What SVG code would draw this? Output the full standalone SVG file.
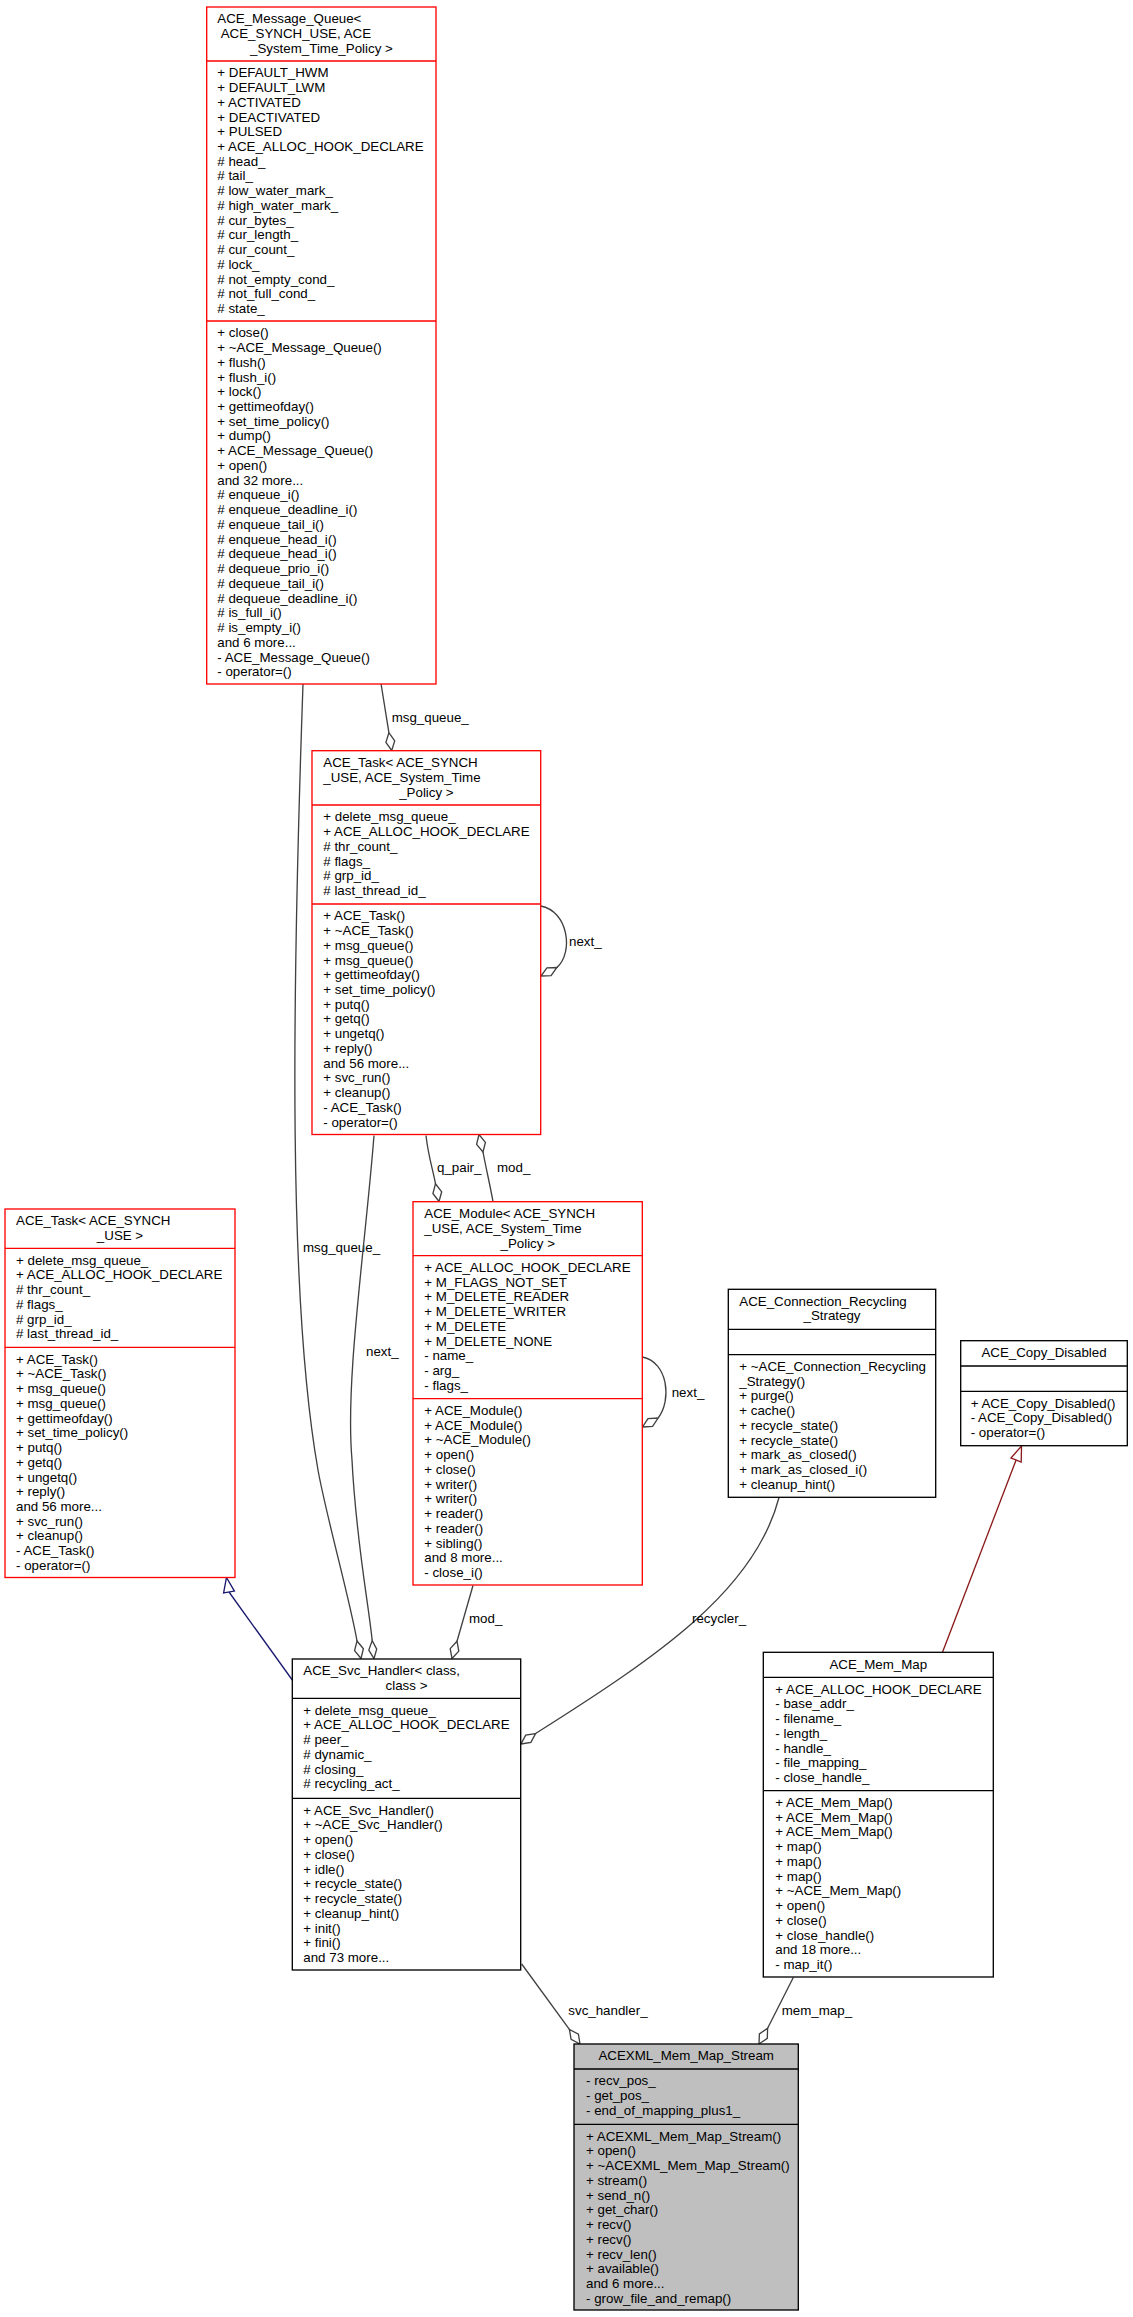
<svg xmlns="http://www.w3.org/2000/svg" width="1133" height="2317" viewBox="0 0 1133 2317">
<style>
.t{font-family:"Liberation Sans",Arial,Helvetica,sans-serif;font-size:13.33px;fill:#000}
.m{text-anchor:middle}
.rb{fill:#fff;stroke:#ff0000;stroke-width:1.33}
.rl{stroke:#ff0000;stroke-width:1.33}
.kb{fill:#fff;stroke:#000;stroke-width:1.33}
.kl{stroke:#000;stroke-width:1.33}
.gb{fill:#bfbfbf;stroke:#000;stroke-width:1.33}
.e{fill:none;stroke:#404040;stroke-width:1.33}
.d{fill:#fff;stroke:#404040;stroke-width:1.33}
.ib{fill:none;stroke:#191970;stroke-width:1.33}
.ibh{fill:#fff;stroke:#191970;stroke-width:1.33}
.ir{fill:none;stroke:#8b1a1a;stroke-width:1.33}
.irh{fill:#fff;stroke:#8b1a1a;stroke-width:1.33}
</style>
<rect x="0" y="0" width="1133" height="2317" fill="#fff"/>

<g id="edges">
<!-- MQ -> Task msg_queue_ -->
<path class="e" d="M381,683.5 L388.9,732.7"/>
<polygon class="d" points="391.7,750.5 394.7,740.9 388.9,732.7 385.9,742.3"/>
<text class="t" x="391.7" y="721.5">msg_queue_</text>
<!-- MQ -> Svc msg_queue_ -->
<path class="e" d="M303,684 C292,1000 288,1300 318,1470 C326,1515 350,1600 357,1641"/>
<polygon class="d" points="361,1658.5 363.4,1648.7 357,1641 354.6,1650.7"/>
<text class="t" x="303" y="1252">msg_queue_</text>
<!-- Task -> Svc next_ -->
<path class="e" d="M374,1135.5 C365,1250 345,1380 352,1460 C356,1540 368,1600 372.2,1640.6"/>
<polygon class="d" points="374,1658.5 376.7,1649.1 372.2,1640.6 368.8,1650.1"/>
<text class="t" x="366" y="1356">next_</text>
<!-- Task self next_ -->
<path class="e" d="M540.7,906 C568,911 574,952 556.9,967.5"/>
<polygon class="d" points="541,976 551.1,975.7 556.9,967.5 546.9,967.8"/>
<text class="t" x="569" y="946">next_</text>
<!-- Task -> Module q_pair_ -->
<path class="e" d="M426,1135.5 C428,1155 433,1170 435.5,1183.8"/>
<polygon class="d" points="439,1201.5 441.7,1191.8 435.5,1183.8 432.9,1193.5"/>
<text class="t" x="437" y="1172">q_pair_</text>
<!-- Module -> Task mod_ -->
<path class="e" d="M493,1201.5 C490,1185 486,1168 483,1152"/>
<polygon class="d" points="479,1134.5 476.6,1144.3 483,1152 485.4,1142.3"/>
<text class="t" x="497" y="1172">mod_</text>
<!-- Module self next_ -->
<path class="e" d="M642.3,1357 C668,1362 672,1400 658.1,1418"/>
<polygon class="d" points="642.5,1427 652.6,1426.4 658.1,1418 648,1418.6"/>
<text class="t" x="671.7" y="1396.5">next_</text>
<!-- Module -> Svc mod_ -->
<path class="e" d="M473,1585.5 L457,1641.2"/>
<polygon class="d" points="452,1658.5 458.8,1651.1 457,1641.2 450.2,1648.6"/>
<text class="t" x="469" y="1623">mod_</text>
<!-- Conn -> Svc recycler_ -->
<path class="e" d="M779,1497.5 C755,1590 660,1655 535.6,1733.5"/>
<polygon class="d" points="521,1744 530.9,1742.4 535.6,1733.5 525.7,1735.1"/>
<text class="t" x="692" y="1622.5">recycler_</text>
<!-- Svc -> ACEXML svc_handler_ -->
<path class="e" d="M521.7,1964 L569.4,2029.4"/>
<polygon class="d" points="580,2044 578.4,2034.1 569.4,2029.4 571.1,2039.4"/>
<text class="t" x="568.3" y="2014.5">svc_handler_</text>
<!-- MemMap -> ACEXML mem_map_ -->
<path class="e" d="M793.3,1977.5 L767.6,2028.2"/>
<polygon class="d" points="759,2044 767.3,2038.3 767.6,2028.2 759.4,2033.9"/>
<text class="t" x="781.7" y="2014.5">mem_map_</text>
<!-- Svc inherits Task<SYNCH_USE> -->
<path class="ib" d="M292.3,1680 L229,1592"/>
<polygon class="ibh" points="226.5,1577.5 234.4,1591.1 223.6,1592.9"/>
<!-- MemMap inherits Copy_Disabled -->
<path class="ir" d="M942.6,1652 L1016.1,1460"/>
<polygon class="irh" points="1021.5,1446 1021.2,1462 1011,1458"/>
</g>

<g id="node_message_queue">
<rect class="rb" x="206.7" y="7" width="229.3" height="677"/>
<line class="rl" x1="206.7" y1="61" x2="436" y2="61"/>
<line class="rl" x1="206.7" y1="321" x2="436" y2="321"/>
<text class="t"><tspan x="217.3" y="23">ACE_Message_Queue&lt;</tspan><tspan x="220.7" y="37.7">ACE_SYNCH_USE, ACE</tspan><tspan class="m" x="321.4" y="52.5">_System_Time_Policy &gt;</tspan></text>
<text class="t" x="217.3" y="77.3"><tspan x="217.3" dy="0">+ DEFAULT_HWM</tspan><tspan x="217.3" dy="14.74">+ DEFAULT_LWM</tspan><tspan x="217.3" dy="14.74">+ ACTIVATED</tspan><tspan x="217.3" dy="14.74">+ DEACTIVATED</tspan><tspan x="217.3" dy="14.74">+ PULSED</tspan><tspan x="217.3" dy="14.74">+ ACE_ALLOC_HOOK_DECLARE</tspan><tspan x="217.3" dy="14.74"># head_</tspan><tspan x="217.3" dy="14.74"># tail_</tspan><tspan x="217.3" dy="14.74"># low_water_mark_</tspan><tspan x="217.3" dy="14.74"># high_water_mark_</tspan><tspan x="217.3" dy="14.74"># cur_bytes_</tspan><tspan x="217.3" dy="14.74"># cur_length_</tspan><tspan x="217.3" dy="14.74"># cur_count_</tspan><tspan x="217.3" dy="14.74"># lock_</tspan><tspan x="217.3" dy="14.74"># not_empty_cond_</tspan><tspan x="217.3" dy="14.74"># not_full_cond_</tspan><tspan x="217.3" dy="14.74"># state_</tspan></text>
<text class="t" x="217.3" y="337.3"><tspan x="217.3" dy="0">+ close()</tspan><tspan x="217.3" dy="14.74">+ ~ACE_Message_Queue()</tspan><tspan x="217.3" dy="14.74">+ flush()</tspan><tspan x="217.3" dy="14.74">+ flush_i()</tspan><tspan x="217.3" dy="14.74">+ lock()</tspan><tspan x="217.3" dy="14.74">+ gettimeofday()</tspan><tspan x="217.3" dy="14.74">+ set_time_policy()</tspan><tspan x="217.3" dy="14.74">+ dump()</tspan><tspan x="217.3" dy="14.74">+ ACE_Message_Queue()</tspan><tspan x="217.3" dy="14.74">+ open()</tspan><tspan x="217.3" dy="14.74">and 32 more...</tspan><tspan x="217.3" dy="14.74"># enqueue_i()</tspan><tspan x="217.3" dy="14.74"># enqueue_deadline_i()</tspan><tspan x="217.3" dy="14.74"># enqueue_tail_i()</tspan><tspan x="217.3" dy="14.74"># enqueue_head_i()</tspan><tspan x="217.3" dy="14.74"># dequeue_head_i()</tspan><tspan x="217.3" dy="14.74"># dequeue_prio_i()</tspan><tspan x="217.3" dy="14.74"># dequeue_tail_i()</tspan><tspan x="217.3" dy="14.74"># dequeue_deadline_i()</tspan><tspan x="217.3" dy="14.74"># is_full_i()</tspan><tspan x="217.3" dy="14.74"># is_empty_i()</tspan><tspan x="217.3" dy="14.74">and 6 more...</tspan><tspan x="217.3" dy="14.74">- ACE_Message_Queue()</tspan><tspan x="217.3" dy="14.74">- operator=()</tspan></text>
</g>

<g id="node_task_time_policy">
<rect class="rb" x="312" y="750.7" width="228.7" height="383.8"/>
<line class="rl" x1="312" y1="805" x2="540.7" y2="805"/>
<line class="rl" x1="312" y1="904" x2="540.7" y2="904"/>
<text class="t"><tspan x="323.3" y="767">ACE_Task&lt; ACE_SYNCH</tspan><tspan x="323.3" y="781.7">_USE, ACE_System_Time</tspan><tspan class="m" x="426.4" y="796.5">_Policy &gt;</tspan></text>
<text class="t" x="323.3" y="821.3"><tspan x="323.3" dy="0">+ delete_msg_queue_</tspan><tspan x="323.3" dy="14.74">+ ACE_ALLOC_HOOK_DECLARE</tspan><tspan x="323.3" dy="14.74"># thr_count_</tspan><tspan x="323.3" dy="14.74"># flags_</tspan><tspan x="323.3" dy="14.74"># grp_id_</tspan><tspan x="323.3" dy="14.74"># last_thread_id_</tspan></text>
<text class="t" x="323.3" y="920.3"><tspan x="323.3" dy="0">+ ACE_Task()</tspan><tspan x="323.3" dy="14.74">+ ~ACE_Task()</tspan><tspan x="323.3" dy="14.74">+ msg_queue()</tspan><tspan x="323.3" dy="14.74">+ msg_queue()</tspan><tspan x="323.3" dy="14.74">+ gettimeofday()</tspan><tspan x="323.3" dy="14.74">+ set_time_policy()</tspan><tspan x="323.3" dy="14.74">+ putq()</tspan><tspan x="323.3" dy="14.74">+ getq()</tspan><tspan x="323.3" dy="14.74">+ ungetq()</tspan><tspan x="323.3" dy="14.74">+ reply()</tspan><tspan x="323.3" dy="14.74">and 56 more...</tspan><tspan x="323.3" dy="14.74">+ svc_run()</tspan><tspan x="323.3" dy="14.74">+ cleanup()</tspan><tspan x="323.3" dy="14.74">- ACE_Task()</tspan><tspan x="323.3" dy="14.74">- operator=()</tspan></text>
</g>

<g id="node_task_synch">
<rect class="rb" x="5" y="1209" width="230" height="368.5"/>
<line class="rl" x1="5" y1="1248.3" x2="235" y2="1248.3"/>
<line class="rl" x1="5" y1="1347.3" x2="235" y2="1347.3"/>
<text class="t"><tspan x="16" y="1225.3">ACE_Task&lt; ACE_SYNCH</tspan><tspan class="m" x="120" y="1240">_USE &gt;</tspan></text>
<text class="t" x="16" y="1264.6"><tspan x="16" dy="0">+ delete_msg_queue_</tspan><tspan x="16" dy="14.74">+ ACE_ALLOC_HOOK_DECLARE</tspan><tspan x="16" dy="14.74"># thr_count_</tspan><tspan x="16" dy="14.74"># flags_</tspan><tspan x="16" dy="14.74"># grp_id_</tspan><tspan x="16" dy="14.74"># last_thread_id_</tspan></text>
<text class="t" x="16" y="1363.6"><tspan x="16" dy="0">+ ACE_Task()</tspan><tspan x="16" dy="14.74">+ ~ACE_Task()</tspan><tspan x="16" dy="14.74">+ msg_queue()</tspan><tspan x="16" dy="14.74">+ msg_queue()</tspan><tspan x="16" dy="14.74">+ gettimeofday()</tspan><tspan x="16" dy="14.74">+ set_time_policy()</tspan><tspan x="16" dy="14.74">+ putq()</tspan><tspan x="16" dy="14.74">+ getq()</tspan><tspan x="16" dy="14.74">+ ungetq()</tspan><tspan x="16" dy="14.74">+ reply()</tspan><tspan x="16" dy="14.74">and 56 more...</tspan><tspan x="16" dy="14.74">+ svc_run()</tspan><tspan x="16" dy="14.74">+ cleanup()</tspan><tspan x="16" dy="14.74">- ACE_Task()</tspan><tspan x="16" dy="14.74">- operator=()</tspan></text>
</g>

<g id="node_module">
<rect class="rb" x="413" y="1201.7" width="229.3" height="383.3"/>
<line class="rl" x1="413" y1="1255.7" x2="642.3" y2="1255.7"/>
<line class="rl" x1="413" y1="1398.7" x2="642.3" y2="1398.7"/>
<text class="t"><tspan x="424.3" y="1218">ACE_Module&lt; ACE_SYNCH</tspan><tspan x="424.3" y="1232.7">_USE, ACE_System_Time</tspan><tspan class="m" x="527.7" y="1247.5">_Policy &gt;</tspan></text>
<text class="t" x="424.3" y="1272"><tspan x="424.3" dy="0">+ ACE_ALLOC_HOOK_DECLARE</tspan><tspan x="424.3" dy="14.74">+ M_FLAGS_NOT_SET</tspan><tspan x="424.3" dy="14.74">+ M_DELETE_READER</tspan><tspan x="424.3" dy="14.74">+ M_DELETE_WRITER</tspan><tspan x="424.3" dy="14.74">+ M_DELETE</tspan><tspan x="424.3" dy="14.74">+ M_DELETE_NONE</tspan><tspan x="424.3" dy="14.74">- name_</tspan><tspan x="424.3" dy="14.74">- arg_</tspan><tspan x="424.3" dy="14.74">- flags_</tspan></text>
<text class="t" x="424.3" y="1415"><tspan x="424.3" dy="0">+ ACE_Module()</tspan><tspan x="424.3" dy="14.74">+ ACE_Module()</tspan><tspan x="424.3" dy="14.74">+ ~ACE_Module()</tspan><tspan x="424.3" dy="14.74">+ open()</tspan><tspan x="424.3" dy="14.74">+ close()</tspan><tspan x="424.3" dy="14.74">+ writer()</tspan><tspan x="424.3" dy="14.74">+ writer()</tspan><tspan x="424.3" dy="14.74">+ reader()</tspan><tspan x="424.3" dy="14.74">+ reader()</tspan><tspan x="424.3" dy="14.74">+ sibling()</tspan><tspan x="424.3" dy="14.74">and 8 more...</tspan><tspan x="424.3" dy="14.74">- close_i()</tspan></text>
</g>

<g id="node_connection_recycling">
<rect class="kb" x="728.3" y="1289.3" width="207.4" height="208"/>
<line class="kl" x1="728.3" y1="1329.3" x2="935.7" y2="1329.3"/>
<line class="kl" x1="728.3" y1="1354.7" x2="935.7" y2="1354.7"/>
<text class="t"><tspan x="739.3" y="1305.6">ACE_Connection_Recycling</tspan><tspan class="m" x="832" y="1320.3">_Strategy</tspan></text>
<text class="t" x="739.3" y="1371"><tspan x="739.3" dy="0">+ ~ACE_Connection_Recycling</tspan><tspan x="739.3" dy="14.74">_Strategy()</tspan><tspan x="739.3" dy="14.74">+ purge()</tspan><tspan x="739.3" dy="14.74">+ cache()</tspan><tspan x="739.3" dy="14.74">+ recycle_state()</tspan><tspan x="739.3" dy="14.74">+ recycle_state()</tspan><tspan x="739.3" dy="14.74">+ mark_as_closed()</tspan><tspan x="739.3" dy="14.74">+ mark_as_closed_i()</tspan><tspan x="739.3" dy="14.74">+ cleanup_hint()</tspan></text>
</g>

<g id="node_copy_disabled">
<rect class="kb" x="960.7" y="1340.7" width="166.6" height="105"/>
<line class="kl" x1="960.7" y1="1366" x2="1127.3" y2="1366"/>
<line class="kl" x1="960.7" y1="1391.3" x2="1127.3" y2="1391.3"/>
<text class="t m" x="1044" y="1357">ACE_Copy_Disabled</text>
<text class="t" x="970.7" y="1407.6"><tspan x="970.7" dy="0">+ ACE_Copy_Disabled()</tspan><tspan x="970.7" dy="14.74">- ACE_Copy_Disabled()</tspan><tspan x="970.7" dy="14.74">- operator=()</tspan></text>
</g>

<g id="node_svc_handler">
<rect class="kb" x="292.3" y="1659" width="228.4" height="311"/>
<line class="kl" x1="292.3" y1="1698.3" x2="520.7" y2="1698.3"/>
<line class="kl" x1="292.3" y1="1798.3" x2="520.7" y2="1798.3"/>
<text class="t"><tspan x="303.3" y="1675.3">ACE_Svc_Handler&lt; class,</tspan><tspan class="m" x="406.5" y="1690">class &gt;</tspan></text>
<text class="t" x="303.3" y="1714.6"><tspan x="303.3" dy="0">+ delete_msg_queue_</tspan><tspan x="303.3" dy="14.74">+ ACE_ALLOC_HOOK_DECLARE</tspan><tspan x="303.3" dy="14.74"># peer_</tspan><tspan x="303.3" dy="14.74"># dynamic_</tspan><tspan x="303.3" dy="14.74"># closing_</tspan><tspan x="303.3" dy="14.74"># recycling_act_</tspan></text>
<text class="t" x="303.3" y="1814.6"><tspan x="303.3" dy="0">+ ACE_Svc_Handler()</tspan><tspan x="303.3" dy="14.74">+ ~ACE_Svc_Handler()</tspan><tspan x="303.3" dy="14.74">+ open()</tspan><tspan x="303.3" dy="14.74">+ close()</tspan><tspan x="303.3" dy="14.74">+ idle()</tspan><tspan x="303.3" dy="14.74">+ recycle_state()</tspan><tspan x="303.3" dy="14.74">+ recycle_state()</tspan><tspan x="303.3" dy="14.74">+ cleanup_hint()</tspan><tspan x="303.3" dy="14.74">+ init()</tspan><tspan x="303.3" dy="14.74">+ fini()</tspan><tspan x="303.3" dy="14.74">and 73 more...</tspan></text>
</g>

<g id="node_mem_map">
<rect class="kb" x="763.3" y="1652.3" width="230" height="324.7"/>
<line class="kl" x1="763.3" y1="1677.3" x2="993.3" y2="1677.3"/>
<line class="kl" x1="763.3" y1="1790.7" x2="993.3" y2="1790.7"/>
<text class="t m" x="878.3" y="1668.6">ACE_Mem_Map</text>
<text class="t" x="775.3" y="1693.6"><tspan x="775.3" dy="0">+ ACE_ALLOC_HOOK_DECLARE</tspan><tspan x="775.3" dy="14.74">- base_addr_</tspan><tspan x="775.3" dy="14.74">- filename_</tspan><tspan x="775.3" dy="14.74">- length_</tspan><tspan x="775.3" dy="14.74">- handle_</tspan><tspan x="775.3" dy="14.74">- file_mapping_</tspan><tspan x="775.3" dy="14.74">- close_handle_</tspan></text>
<text class="t" x="775.3" y="1807"><tspan x="775.3" dy="0">+ ACE_Mem_Map()</tspan><tspan x="775.3" dy="14.74">+ ACE_Mem_Map()</tspan><tspan x="775.3" dy="14.74">+ ACE_Mem_Map()</tspan><tspan x="775.3" dy="14.74">+ map()</tspan><tspan x="775.3" dy="14.74">+ map()</tspan><tspan x="775.3" dy="14.74">+ map()</tspan><tspan x="775.3" dy="14.74">+ ~ACE_Mem_Map()</tspan><tspan x="775.3" dy="14.74">+ open()</tspan><tspan x="775.3" dy="14.74">+ close()</tspan><tspan x="775.3" dy="14.74">+ close_handle()</tspan><tspan x="775.3" dy="14.74">and 18 more...</tspan><tspan x="775.3" dy="14.74">- map_it()</tspan></text>
</g>

<g id="node_acexml_mem_map_stream">
<rect class="gb" x="574" y="2044" width="224.3" height="266"/>
<line class="kl" x1="574" y1="2069" x2="798.3" y2="2069"/>
<line class="kl" x1="574" y1="2124.3" x2="798.3" y2="2124.3"/>
<text class="t m" x="686.2" y="2060.3">ACEXML_Mem_Map_Stream</text>
<text class="t" x="586" y="2085.3"><tspan x="586" dy="0">- recv_pos_</tspan><tspan x="586" dy="14.74">- get_pos_</tspan><tspan x="586" dy="14.74">- end_of_mapping_plus1_</tspan></text>
<text class="t" x="586" y="2140.6"><tspan x="586" dy="0">+ ACEXML_Mem_Map_Stream()</tspan><tspan x="586" dy="14.74">+ open()</tspan><tspan x="586" dy="14.74">+ ~ACEXML_Mem_Map_Stream()</tspan><tspan x="586" dy="14.74">+ stream()</tspan><tspan x="586" dy="14.74">+ send_n()</tspan><tspan x="586" dy="14.74">+ get_char()</tspan><tspan x="586" dy="14.74">+ recv()</tspan><tspan x="586" dy="14.74">+ recv()</tspan><tspan x="586" dy="14.74">+ recv_len()</tspan><tspan x="586" dy="14.74">+ available()</tspan><tspan x="586" dy="14.74">and 6 more...</tspan><tspan x="586" dy="14.74">- grow_file_and_remap()</tspan></text>
</g>
</svg>
